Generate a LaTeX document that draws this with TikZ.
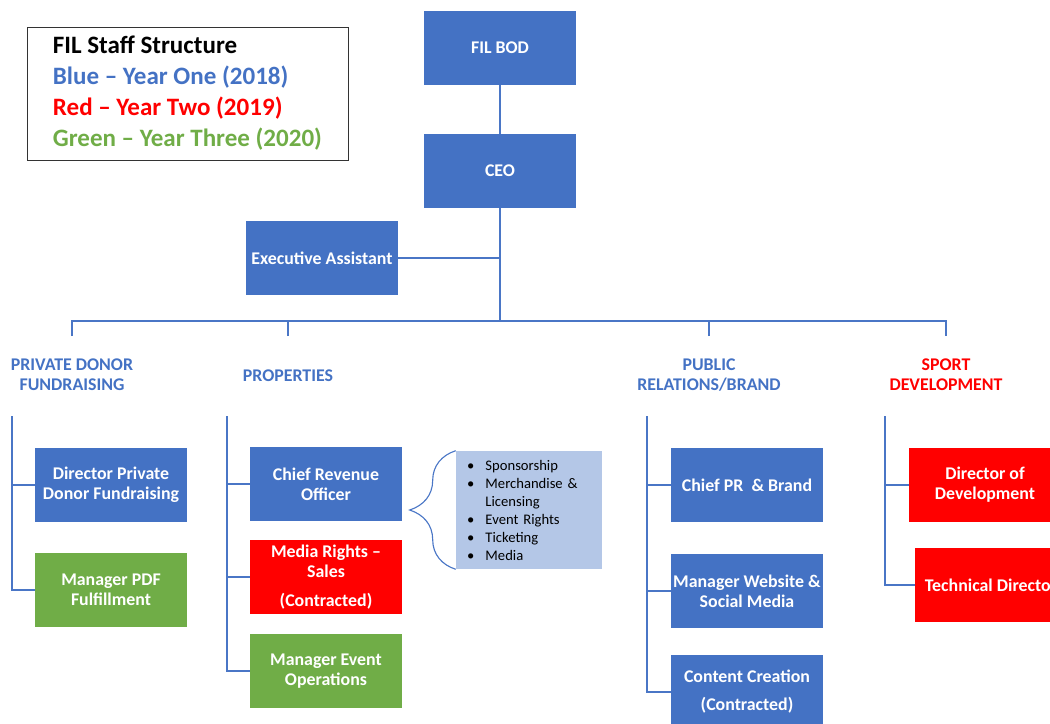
\documentclass[tikz,border=0pt]{standalone}
\usepackage{fontspec}
\setmainfont{Carlito}
\usetikzlibrary{decorations.pathreplacing}

\definecolor{yrblue}{HTML}{4472C4}
\definecolor{yrred}{HTML}{FF0000}
\definecolor{yrgreen}{HTML}{70AD47}
\definecolor{perkblue}{HTML}{B4C7E7}
\definecolor{linkblue}{HTML}{4A76C6}

\newcommand\perkitem{\makebox[16pt][l]{\hspace{3pt}\textbullet}}

\tikzset{
  staff/.style={rectangle, minimum width=3.8cm, minimum height=1.85cm, inner sep=1pt,
    align=center, text=white, font=\bfseries\fontsize{12.7}{14.2}\selectfont},
  yrone/.style={staff, fill=yrblue},
  yrtwo/.style={staff, fill=yrred},
  yrthree/.style={staff, fill=yrgreen},
  branch/.style={align=center, text=yrblue, font=\bfseries\fontsize{12.7}{14.2}\selectfont},
  link/.style={draw=linkblue, line width=0.8pt},
}

\begin{document}
\begin{tikzpicture}[x=0.025cm, y=-0.025cm]
	\useasboundingbox (0,0) rectangle (1050,723);
	\clip (0,0) rectangle (1050,723);

	% legend
	\node[draw=black!80, line width=0.6pt, minimum width=8.025cm, minimum height=3.325cm,
	  align=left, font=\bfseries\fontsize{17.8}{22}\selectfont] (legend) at (187.5,93.5)
	  {FIL Staff Structure\\
	   \textcolor{yrblue}{Blue – Year One (2018)}\\
	   \textcolor{yrred}{Red – Year Two (2019)}\\
	   \textcolor{yrgreen}{Green – Year Three (2020)}};

	% top of the structure
	\node[yrone] (bod) at (500,48) {FIL BOD};
	\node[yrone] (ceo) at (500,171) {CEO};
	\node[yrone] (ea) at (322,258) {Executive Assistant};

	\coordinate (hub) at (500,321);
	\draw[link] (bod) -- (ceo);
	\draw[link] (ceo) -- (hub);
	\draw[link] (ea) -- (ea -| hub);

	% departments
	\node[branch] (pdhead) at (72,375) {PRIVATE DONOR\\FUNDRAISING};
	\node[branch] (prhead) at (288,376) {PROPERTIES};
	\node[branch] (pubhead) at (709,375) {PUBLIC\\RELATIONS/BRAND};
	\node[branch, text=yrred] (sdhead) at (946,375) {SPORT\\DEVELOPMENT};

	\coordinate (pdtop) at (72,336);
	\coordinate (prtop) at (288,336);
	\coordinate (pubtop) at (709,336);
	\coordinate (sdtop) at (946,336);
	\draw[link] (pdtop) |- (hub) -| (sdtop);
	\foreach \d in {prtop, pubtop}
	\draw[link] (\d) -- (\d |- hub);

	% private donor fundraising
	\node[yrone] (dirpd) at (111,485) {Director Private\\Donor Fundraising};
	\node[yrthree] (mgrpdf) at (111,590) {Manager PDF\\Fulfillment};

	% properties
	\node[yrone] (cro) at (326,484) {Chief Revenue\\Officer};
	\node[yrtwo] (media) at (326,577) {Media Rights –\\Sales\\[6.4pt](Contracted)};
	\node[yrthree] (evops) at (326,671) {Manager Event\\Operations};

	\node[fill=perkblue, minimum width=3.65cm, minimum height=2.95cm, text width=3.3cm,
	  inner xsep=0.175cm, align=left, font=\fontsize{10.4}{12.8}\selectfont] (perks) at (529,510)
	  {\perkitem Sponsorship\\
	   \perkitem Merchandise \&\\
	   \hspace*{16pt}Licensing\\
	   \perkitem Event Rights\\
	   \perkitem Ticketing\\
	   \perkitem Media};
	\draw[link, decorate, decoration={brace, amplitude=1.15cm, aspect=0.5}]
	  (perks.south west) -- (perks.north west);

	% public relations / brand
	\node[yrone] (chiefpr) at (747,485) {Chief PR~ \& Brand};
	\node[yrone] (website) at (747,591) {Manager Website \&\\Social Media};
	\node[yrone] (content) at (747,692) {Content Creation\\[5.7pt](Contracted)};

	% sport development
	\node[yrtwo] (dirdev) at (985,485) {Director of\\Development};
	\node[yrtwo] (techdir) at (991,585) {Technical Director};

	% rails down to the staff
	\coordinate (pdrail) at (12,416);
	\coordinate (prrail) at (227,416);
	\coordinate (pubrail) at (647,416);
	\coordinate (sdrail) at (885,416);
	\foreach \s in {dirpd, mgrpdf}
	\draw[link] (pdrail) |- (\s);
	\foreach \s in {cro, media, evops}
	\draw[link] (prrail) |- (\s);
	\foreach \s in {chiefpr, website, content}
	\draw[link] (pubrail) |- (\s);
	\foreach \s in {dirdev, techdir}
	\draw[link] (sdrail) |- (\s);
\end{tikzpicture}
\end{document}
